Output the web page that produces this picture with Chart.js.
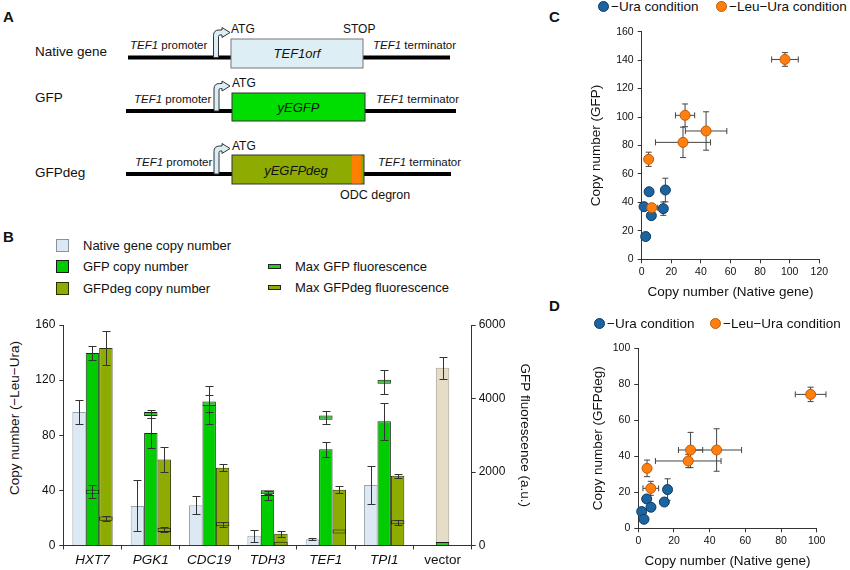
<!DOCTYPE html>
<html>
<head>
<meta charset="utf-8">
<script src="https://cdn.jsdelivr.net/npm/chart.js@4.4.1/dist/chart.umd.min.js"></script>
<style>
  html, body { margin: 0; padding: 0; background: #fff; }
  body { width: 850px; height: 570px; position: relative; overflow: hidden;
         font-family: "Liberation Sans", Arial, sans-serif; color: #111; }
  canvas, svg, .abs { position: absolute; }
  .panel { position: absolute; font-weight: bold; font-size: 15px; line-height: 15px; }
  .leg { position: absolute; font-size: 13px; line-height: 14px; white-space: nowrap; }
  .sq { position: absolute; width: 13px; height: 13px; box-sizing: border-box; border: 1px solid #333; }
  .dash { position: absolute; width: 13px; height: 5px; box-sizing: border-box; border: 1px solid #222; }
  .dot { position: absolute; width: 11px; height: 11px; border-radius: 50%; box-sizing: border-box; border: 1px solid #333; }
  .sleg { position: absolute; font-size: 13.5px; line-height: 14px; white-space: nowrap; }
  .ytitle { position: absolute; font-size: 13.5px; white-space: nowrap;
            transform: translate(-50%, -50%) rotate(-90deg); }
</style>
</head>
<body>

<!-- A: construct diagram -->
<svg style="left:0;top:0" width="470" height="210" font-family="Liberation Sans, Arial, sans-serif" fill="#111">
  <text x="3" y="22" font-size="15" font-weight="bold">A</text>

  <text x="35" y="56" font-size="13.5">Native gene</text>
  <line x1="128" y1="57.5" x2="450" y2="57.5" stroke="#000" stroke-width="4"/>
  <rect x="231" y="39" width="132" height="29" fill="#ddeef5" stroke="#777"/>
  <text x="297" y="58" font-size="13" font-style="italic" text-anchor="middle">TEF1orf</text>
  <path d="M213.5 57.5 V35.5 Q213.5 30 219 30 H222 V27.5 L230 32.5 L222 37.5 V35 H220 Q218.5 35 218.5 36.5 V57.5 Z" fill="#dbeef6" stroke="#333"/>
  <text x="231" y="33" font-size="12">ATG</text>
  <text x="343" y="33" font-size="12">STOP</text>
  <text x="130" y="49" font-size="11.5"><tspan font-style="italic">TEF1</tspan> promoter</text>
  <text x="373" y="49" font-size="11.5"><tspan font-style="italic">TEF1</tspan> terminator</text>

  <text x="35" y="102" font-size="13.5">GFP</text>
  <line x1="126" y1="111" x2="456" y2="111" stroke="#000" stroke-width="4"/>
  <rect x="232" y="93" width="133" height="28" fill="#00dd00" stroke="#333"/>
  <text x="298.5" y="112" font-size="13" font-style="italic" text-anchor="middle">yEGFP</text>
  <path d="M214 111 V89 Q214 83.5 219.5 83.5 H222 V81 L230 86 L222 91 V88.5 H220.5 Q219 88.5 219 90 V111 Z" fill="#dbeef6" stroke="#333"/>
  <text x="232" y="87" font-size="12">ATG</text>
  <text x="134" y="103" font-size="11.5"><tspan font-style="italic">TEF1</tspan> promoter</text>
  <text x="376" y="103" font-size="11.5"><tspan font-style="italic">TEF1</tspan> terminator</text>

  <text x="35" y="177" font-size="13.5">GFPdeg</text>
  <line x1="126" y1="174" x2="451" y2="174" stroke="#000" stroke-width="4"/>
  <rect x="232" y="155" width="132" height="29" fill="#8dab00" stroke="#333"/>
  <rect x="352" y="155.5" width="9" height="28" fill="#ff7f00"/>
  <text x="296" y="174.5" font-size="13" font-style="italic" text-anchor="middle">yEGFPdeg</text>
  <path d="M214 174 V151.5 Q214 146 219.5 146 H222 V143.5 L230 148.5 L222 153.5 V151 H220.5 Q219 151 219 152.5 V174 Z" fill="#dbeef6" stroke="#333"/>
  <text x="232" y="150" font-size="12">ATG</text>
  <text x="135" y="166" font-size="11.5"><tspan font-style="italic">TEF1</tspan> promoter</text>
  <text x="378" y="166" font-size="11.5"><tspan font-style="italic">TEF1</tspan> terminator</text>
  <text x="340" y="199" font-size="12.5">ODC degron</text>
</svg>

<!-- B legend -->
<div class="panel" style="left:3px;top:229px">B</div>
<div class="sq" style="left:56px;top:239px;background:#dce9f4;border-color:#8a939b"></div>
<div class="leg" style="left:83px;top:239px">Native gene copy number</div>
<div class="sq" style="left:56px;top:260px;background:#00cc00;border-color:#1a1a1a"></div>
<div class="leg" style="left:83px;top:260px">GFP copy number</div>
<div class="sq" style="left:56px;top:282px;background:#8dab00;border-color:#2a2f00"></div>
<div class="leg" style="left:83px;top:282px">GFPdeg copy number</div>
<div class="dash" style="left:268px;top:264px;background:#22cc22"></div>
<div class="leg" style="left:295px;top:260px">Max GFP fluorescence</div>
<div class="dash" style="left:268px;top:285px;background:#8dab00"></div>
<div class="leg" style="left:295px;top:281px">Max GFPdeg fluorescence</div>
<div class="ytitle" style="left:14px;top:418px">Copy number (−Leu−Ura)</div>

<canvas id="chartB" width="545" height="270" style="left:0;top:300px"></canvas>

<!-- C -->
<div class="panel" style="left:549px;top:9px">C</div>
<div class="dot" style="left:598px;top:1px;background:#1c64a0;border-color:#0d3a63"></div>
<div class="sleg" style="left:611px;top:0px">−Ura condition</div>
<div class="dot" style="left:716px;top:1px;background:#ff8010;border-color:#c25a00"></div>
<div class="sleg" style="left:729px;top:0px">−Leu−Ura condition</div>
<canvas id="chartC" width="280" height="300" style="left:570px;top:0"></canvas>

<!-- D -->
<div class="panel" style="left:549px;top:298px">D</div>
<div class="dot" style="left:594px;top:318px;background:#1c64a0;border-color:#0d3a63"></div>
<div class="sleg" style="left:607px;top:317px">−Ura condition</div>
<div class="dot" style="left:710px;top:318px;background:#ff8010;border-color:#c25a00"></div>
<div class="sleg" style="left:723px;top:317px">−Leu−Ura condition</div>
<canvas id="chartD" width="280" height="275" style="left:570px;top:295px"></canvas>

<script>
// B: copy numbers (left axis) and max fluorescence (right axis)
const categories = ['HXT7', 'PGK1', 'CDC19', 'TDH3', 'TEF1', 'TPI1', 'vector'];
const nativeCopy = [96.8, 28.7, 29.2, 7, 4.6, 43.9, null];
const nativeErr  = [8.7, 18.5, 6.7, 4.4, 0.6, 14, null];
const gfpCopy    = [139.7, 81.7, 102.2, 36.6, 69.9, 90.1, 128.9];
const gfpErr     = [5, 11, 13.8, 3.3, 5.4, 13.5, 8.2];
const degCopy    = [143.3, 62.4, 56.4, 8.5, 40.5, 50.6, null];
const degErr     = [12.3, 9.2, 2.7, 2, 2.5, 1.6, null];
const gfpFluor    = [1463, 3577, 3860, 1447, 3480, 4455, 40];
const gfpFluorErr = [180, 107, 240, 40, 176, 325, 0];
const degFluor    = [731, 425, 580, 46, 380, 634, null];
const degFluorErr = [64, 70, 63, 0, 0, 70, null];
const copyTicks  = [0, 40, 80, 120, 160];
const fluorTicks = [0, 2000, 4000, 6000];

// C: copy number GFP vs native gene
const cUraX    = [1.6, 5, 2.7, 6.5, 14.6, 16];
const cUraY    = [37, 47.5, 16, 30.7, 35.6, 48.7];
const cUraXErr = [1, 1, 0.5, 1, 1.5, 1];
const cUraYErr = [2, 2, 1.5, 2, 4.7, 8.3];
const cLeuX    = [96.8, 29.3, 43.5, 27.9, 4.7, 6.8];
const cLeuY    = [140.5, 101.2, 90.2, 82.2, 70.3, 36.3];
const cLeuXErr = [9, 6.5, 14, 18.6, 1, 4];
const cLeuYErr = [4.8, 8, 13.5, 10.7, 5, 2];
const cXTicks  = [0, 20, 40, 60, 80, 100, 120];
const cYTicks  = [0, 20, 40, 60, 80, 100, 120, 140, 160];

// D: copy number GFPdeg vs native gene
const dUraX    = [1.9, 3.2, 4.7, 7.1, 14.6, 16.4];
const dUraY    = [9.3, 5, 16.3, 11.7, 14.6, 21.5];
const dUraXErr = [0.5, 0.5, 1, 1, 1, 1];
const dUraYErr = [1, 1, 2, 2, 2, 6];
const dLeuX    = [96.6, 29.3, 43.9, 28, 4.9, 7];
const dLeuY    = [74.4, 43.5, 43.5, 37.4, 33.3, 22.2];
const dLeuXErr = [8.6, 6.8, 14, 18.4, 1, 4.4];
const dLeuYErr = [4, 9.8, 11.8, 3.7, 4.6, 3.9];
const dXTicks  = [0, 20, 40, 60, 80, 100];
const dYTicks  = [0, 20, 40, 60, 80, 100];

const FONT = '"Liberation Sans", Arial, sans-serif';
Chart.defaults.font.family = FONT;
Chart.defaults.color = '#111';

const AXIS = '#333';
const BLUE = '#1c64a0', BLUE_EDGE = '#0d3a63';
const ORANGE = '#ff8010', ORANGE_EDGE = '#c25a00';
const MARK = 55; // half height of the fluorescence marks, in a.u.

const markRange = v => (v == null ? null : [v - MARK, v + MARK]);
const fixedTicks = list => s => { s.ticks = list.map(v => ({ value: v })); };
const plainLabel = v => String(v);

// error bars for the bar chart, drawn on top of the bars
const barErrors = {
  id: 'barErrors',
  afterDatasetsDraw(chart) {
    const ctx = chart.ctx;
    chart.data.datasets.forEach((ds, di) => {
      if (!ds.errors) return;
      const meta = chart.getDatasetMeta(di);
      const scale = chart.scales[meta.yAxisID];
      ctx.save();
      ctx.strokeStyle = '#333';
      ctx.lineWidth = 1;
      meta.data.forEach((bar, i) => {
        const c = ds.centers[i], e = ds.errors[i];
        if (c == null || !e) return;
        const x = Math.round(bar.x) + 0.5;
        const top = Math.round(scale.getPixelForValue(c + e)) + 0.5;
        const bot = Math.round(scale.getPixelForValue(Math.max(c - e, 0))) + 0.5;
        ctx.beginPath();
        ctx.moveTo(x, top); ctx.lineTo(x, bot);
        ctx.moveTo(x - 4, top); ctx.lineTo(x + 4, top);
        ctx.moveTo(x - 4, bot); ctx.lineTo(x + 4, bot);
        ctx.stroke();
      });
      ctx.restore();
    });
  }
};

// x / y error bars for the scatter plots, drawn under the points
const xyErrors = {
  id: 'xyErrors',
  beforeDatasetsDraw(chart) {
    const ctx = chart.ctx;
    const xs = chart.scales.x, ys = chart.scales.y;
    chart.data.datasets.forEach((ds, di) => {
      const meta = chart.getDatasetMeta(di);
      ctx.save();
      ctx.strokeStyle = '#444';
      ctx.lineWidth = 1;
      meta.data.forEach((pt, i) => {
        const p = ds.data[i];
        const ex = ds.xErr[i], ey = ds.yErr[i];
        ctx.beginPath();
        if (ex) {
          const l = xs.getPixelForValue(Math.max(p.x - ex, 0)), r = xs.getPixelForValue(p.x + ex);
          ctx.moveTo(l, pt.y); ctx.lineTo(r, pt.y);
          ctx.moveTo(l, pt.y - 3); ctx.lineTo(l, pt.y + 3);
          ctx.moveTo(r, pt.y - 3); ctx.lineTo(r, pt.y + 3);
        }
        if (ey) {
          const t = ys.getPixelForValue(p.y + ey), b = ys.getPixelForValue(Math.max(p.y - ey, 0));
          ctx.moveTo(pt.x, t); ctx.lineTo(pt.x, b);
          ctx.moveTo(pt.x - 3, t); ctx.lineTo(pt.x + 3, t);
          ctx.moveTo(pt.x - 3, b); ctx.lineTo(pt.x + 3, b);
        }
        ctx.stroke();
      });
      ctx.restore();
    });
  }
};

const axisGrid = { display: true, drawOnChartArea: false, drawTicks: true, tickLength: 4, color: AXIS };
const axisBorder = { display: true, color: AXIS, width: 1 };

// ---- B ----
new Chart(document.getElementById('chartB'), {
  type: 'bar',
  data: {
    labels: categories,
    datasets: [
      { label: 'Native gene copy number', data: nativeCopy, centers: nativeCopy, errors: nativeErr,
        backgroundColor: '#dce9f4', borderColor: '#9aa3ab', borderWidth: 1,
        stack: 's1', order: 1, yAxisID: 'y' },
      { label: 'Max GFP fluorescence', data: gfpFluor.map(markRange), centers: gfpFluor, errors: gfpFluorErr,
        backgroundColor: '#22cc22', borderColor: '#1a1a1a', borderWidth: 1, borderSkipped: false,
        stack: 's2', order: 2, yAxisID: 'y1', clip: 0 },
      { label: 'Max GFPdeg fluorescence', data: degFluor.map(markRange), centers: degFluor, errors: degFluorErr,
        backgroundColor: '#8dab00', borderColor: '#1a1a1a', borderWidth: 1, borderSkipped: false,
        stack: 's3', order: 3, yAxisID: 'y1', clip: 0 },
      { label: 'GFP copy number', data: gfpCopy, centers: gfpCopy, errors: gfpErr,
        backgroundColor: categories.map(c => (c === 'vector' ? '#e5ddc8' : '#00cc00')),
        borderColor: categories.map(c => (c === 'vector' ? '#a9a392' : '#1e2e1e')), borderWidth: 1,
        stack: 's2', order: 4, yAxisID: 'y' },
      { label: 'GFPdeg copy number', data: degCopy, centers: degCopy, errors: degErr,
        backgroundColor: '#8dab00', borderColor: '#2e3300', borderWidth: 1,
        stack: 's3', order: 5, yAxisID: 'y' }
    ]
  },
  options: {
    responsive: false,
    animation: false,
    devicePixelRatio: 1,
    categoryPercentage: 0.69,
    barPercentage: 1,
    layout: { padding: { top: 25, left: 0, right: 0, bottom: 0 } },
    plugins: { legend: { display: false }, tooltip: { enabled: false } },
    scales: {
      x: {
        grid: { ...axisGrid, offset: true },
        border: axisBorder,
        ticks: {
          padding: 3,
          font: c => ({ family: FONT, size: 13.5, style: categories[c.index] === 'vector' ? 'normal' : 'italic' })
        },
        afterFit: s => { s.height = 24.5; }
      },
      y: {
        position: 'left', min: 0, max: 160, stacked: false,
        grid: axisGrid, border: axisBorder,
        ticks: { padding: 4, font: { size: 12 }, callback: plainLabel },
        afterBuildTicks: fixedTicks(copyTicks),
        afterFit: s => { s.width = 63.3; }
      },
      y1: {
        position: 'right', min: 0, max: 6000, stacked: false,
        grid: axisGrid, border: axisBorder,
        ticks: { padding: 3, font: { size: 12 }, callback: plainLabel },
        afterBuildTicks: fixedTicks(fluorTicks),
        title: { display: true, text: 'GFP fluorescence (a.u.)', font: { size: 13.5 }, padding: { top: 12, bottom: 0 } },
        afterFit: s => { s.width = 73.3; }
      }
    }
  },
  plugins: [barErrors]
});

// ---- C and D ----
const pts = (xs, ys) => xs.map((x, i) => ({ x, y: ys[i] }));

function scatterChart(id, d, g) {
  return new Chart(document.getElementById(id), {
    type: 'scatter',
    data: {
      datasets: [
        { label: '−Leu−Ura condition', data: pts(d.leuX, d.leuY), xErr: d.leuXErr, yErr: d.leuYErr,
          backgroundColor: ORANGE, borderColor: ORANGE_EDGE, pointRadius: 5, pointBorderWidth: 1, order: 0, clip: false },
        { label: '−Ura condition', data: pts(d.uraX, d.uraY), xErr: d.uraXErr, yErr: d.uraYErr,
          backgroundColor: BLUE, borderColor: BLUE_EDGE, pointRadius: 5, pointBorderWidth: 1, order: 1, clip: false }
      ]
    },
    options: {
      responsive: false,
      animation: false,
      devicePixelRatio: 1,
      layout: { padding: { top: g.top, left: 0, right: g.right, bottom: 0 } },
      plugins: { legend: { display: false }, tooltip: { enabled: false } },
      scales: {
        x: {
          type: 'linear', min: 0, max: d.xTicks[d.xTicks.length - 1],
          grid: axisGrid, border: axisBorder,
          ticks: { padding: 3, font: { size: 10.5 }, callback: plainLabel },
          afterBuildTicks: fixedTicks(d.xTicks),
          title: { display: true, text: 'Copy number (Native gene)', font: { size: 13.5 }, padding: { top: 0, bottom: g.xTitlePad } },
          afterFit: s => { s.height = g.bottom; }
        },
        y: {
          type: 'linear', min: 0, max: d.yTicks[d.yTicks.length - 1],
          grid: axisGrid, border: axisBorder,
          ticks: { padding: 4, font: { size: 10.5 }, callback: plainLabel },
          afterBuildTicks: fixedTicks(d.yTicks),
          title: { display: true, text: d.yTitle, font: { size: 13.5 }, padding: { top: g.yTitlePad, bottom: 0 } },
          afterFit: s => { s.width = g.left; }
        }
      }
    },
    plugins: [xyErrors]
  });
}

scatterChart('chartC',
  { uraX: cUraX, uraY: cUraY, uraXErr: cUraXErr, uraYErr: cUraYErr,
    leuX: cLeuX, leuY: cLeuY, leuXErr: cLeuXErr, leuYErr: cLeuYErr,
    xTicks: cXTicks, yTicks: cYTicks, yTitle: 'Copy number (GFP)' },
  { left: 71.7, right: 30.7, top: 31.7, bottom: 40.7, yTitlePad: 18.6, xTitlePad: 0 });

scatterChart('chartD',
  { uraX: dUraX, uraY: dUraY, uraXErr: dUraXErr, uraYErr: dUraYErr,
    leuX: dLeuX, leuY: dLeuY, leuXErr: dLeuXErr, leuYErr: dLeuYErr,
    xTicks: dXTicks, yTicks: dYTicks, yTitle: 'Copy number (GFPdeg)' },
  { left: 68.3, right: 33.3, top: 53.3, bottom: 41.7, yTitlePad: 19.9, xTitlePad: 0.2 });
</script>
</body>
</html>
